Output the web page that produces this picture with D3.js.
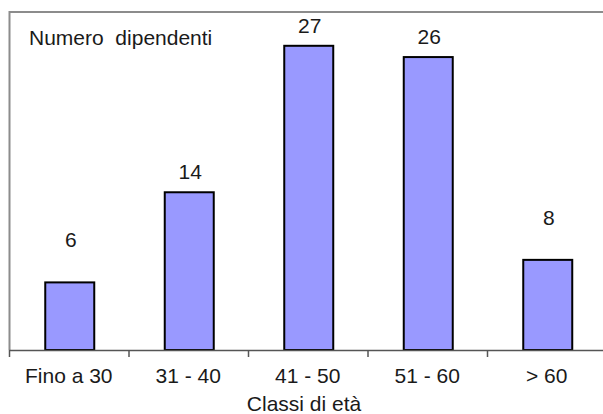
<!DOCTYPE html>
<html>
<head>
<meta charset="utf-8">
<script src="https://cdn.jsdelivr.net/npm/d3@7"></script>
<style>
  html, body { margin: 0; padding: 0; background: #fff; }
  svg { display: block; }
  text { font-family: "Liberation Sans", Arial, sans-serif; fill: #1a1a1a; }
</style>
</head>
<body>
<svg id="chart" width="603" height="414"></svg>
<script>
const categories = ["Fino a 30", "31 - 40", "41 - 50", "51 - 60", "> 60"];
const values = [6, 14, 27, 26, 8];
const yTicks = [0, 30];
const yLabel = "Numero  dipendenti";
const xLabel = "Classi di età";

(function () {
const svg = d3.select("#chart");
const pLeft = 10, pRight = 607.5, pTop = 12, pBottom = 350;
const fs = 21;

const x = d3.scaleBand().domain(categories).range([pLeft, pRight]).paddingInner(0.59).paddingOuter(0.295);
const y = d3.scaleLinear().domain([yTicks[0], yTicks[1]]).range([pBottom, pTop]);

// frame (top and left)
svg.append("line").attr("x1", pLeft - 0.5).attr("x2", 603).attr("y1", pTop).attr("y2", pTop)
  .attr("stroke", "#8c8c8c").attr("stroke-width", 2);
svg.append("line").attr("x1", pLeft - 0.5).attr("x2", pLeft - 0.5).attr("y1", pTop - 1).attr("y2", pBottom)
  .attr("stroke", "#8c8c8c").attr("stroke-width", 2);

// bars
svg.selectAll("rect.bar").data(values).enter().append("rect")
  .attr("class", "bar")
  .attr("x", (d, i) => x(categories[i]))
  .attr("y", d => y(d))
  .attr("width", x.bandwidth())
  .attr("height", d => pBottom - y(d))
  .attr("fill", "#9999ff")
  .attr("stroke", "#000")
  .attr("stroke-width", 2);

// value labels (short bars have their labels lifted higher, as in the original)
svg.selectAll("text.val").data(values).enter().append("text")
  .attr("class", "val")
  .attr("x", (d, i) => x(categories[i]) + x.bandwidth() / 2 + 1)
  .attr("y", d => y(d) - (d < 10 ? 35 : 13))
  .attr("text-anchor", "middle")
  .attr("font-size", fs)
  .text(d => d);

// x axis
const step = x.step();
const axisG = svg.append("g");
axisG.append("line").attr("x1", pLeft - 0.5).attr("x2", 603).attr("y1", pBottom + 0.5).attr("y2", pBottom + 0.5)
  .attr("stroke", "#555").attr("stroke-width", 1.5);
const tickPos = d3.range(categories.length + 1).map(i => pLeft + i * step);
axisG.selectAll("line.tick").data(tickPos).enter().append("line")
  .attr("class", "tick")
  .attr("x1", d => d - 0.5).attr("x2", d => d - 0.5)
  .attr("y1", pBottom).attr("y2", pBottom + 7)
  .attr("stroke", "#555").attr("stroke-width", 1.5);
axisG.selectAll("text.cat").data(categories).enter().append("text")
  .attr("class", "cat")
  .attr("x", d => x(d) + x.bandwidth() / 2 - 1)
  .attr("y", 383)
  .attr("text-anchor", "middle")
  .attr("font-size", fs)
  .text(d => d);

// axis titles
svg.append("text").attr("x", 29).attr("y", 45).attr("font-size", fs)
  .style("white-space", "pre").text(yLabel);
svg.append("text").attr("x", 304).attr("y", 411).attr("text-anchor", "middle").attr("font-size", fs).text(xLabel);
})();
</script>
</body>
</html>
